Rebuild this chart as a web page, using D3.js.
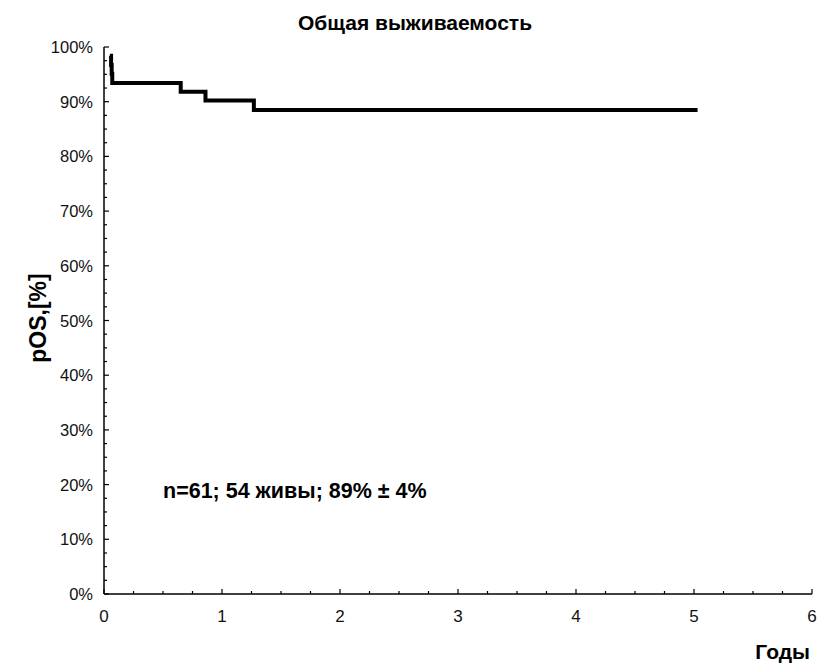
<!DOCTYPE html>
<html><head><meta charset="utf-8">
<script src="https://cdn.jsdelivr.net/npm/d3@7"></script>
<style>body{margin:0;background:#fff}text{font-family:"Liberation Sans",Arial,sans-serif}</style>
</head><body>
<svg id="c" width="825" height="665"></svg>
<script>
const times = [0.05, 0.06, 0.065, 0.07, 0.65, 0.86, 1.27, 5.03];
const survival = [98.4, 96.7, 95.1, 93.4, 91.8, 90.2, 88.5, 88.5];
const xTicks = [0, 1, 2, 3, 4, 5, 6];
const yTicks = [0, 10, 20, 30, 40, 50, 60, 70, 80, 90, 100];
const title = "Общая выживаемость";
const xLabel = "Годы";
const yLabel = "pOS,[%]";
const note = "n=61; 54 живы; 89% ± 4%";

const svg = d3.select("#c");
const x = d3.scaleLinear().domain([0, 6]).range([104, 812]);
const y = d3.scaleLinear().domain([0, 100]).range([594, 47]);

// axes
const g = svg.append("g");
g.append("line").attr("x1", x(0)).attr("x2", x(6)).attr("y1", y(0)).attr("y2", y(0)).attr("stroke", "#000").attr("stroke-width", 1.5);
g.append("line").attr("x1", x(0)).attr("x2", x(0)).attr("y1", y(0)).attr("y2", y(100)).attr("stroke", "#000").attr("stroke-width", 1.5);

d3.range(0, 6.001, 0.25).forEach(v => {
  const major = Math.abs(v - Math.round(v)) < 1e-6;
  g.append("line").attr("x1", x(v)).attr("x2", x(v)).attr("y1", y(0)).attr("y2", y(0) - (major ? 5 : 3)).attr("stroke", "#000").attr("stroke-width", 1.2);
});
d3.range(0, 100.001, 2.5).forEach(v => {
  const major = Math.abs(v / 10 - Math.round(v / 10)) < 1e-6;
  g.append("line").attr("x1", x(0)).attr("x2", x(0) + (major ? 5 : 3)).attr("y1", y(v)).attr("y2", y(v)).attr("stroke", "#000").attr("stroke-width", 1.2);
});

xTicks.forEach(v => {
  g.append("text").attr("x", x(v)).attr("y", y(0) + 28).attr("text-anchor", "middle")
    .attr("font-size", 17).attr("fill", "#111").text(v);
});
yTicks.forEach(v => {
  g.append("text").attr("x", 93).attr("y", y(v) + 6).attr("text-anchor", "end")
    .attr("font-size", 16.5).attr("fill", "#111").text(v + "%");
});

// curve
const line = d3.line().x(d => x(d[0])).y(d => y(d[1])).curve(d3.curveStepAfter);
const pts = times.map((t, i) => [t, survival[i]]);
svg.append("path").attr("d", line(pts)).attr("fill", "none").attr("stroke", "#000").attr("stroke-width", 4);

svg.append("text").attr("x", 415).attr("y", 30).attr("text-anchor", "middle").attr("font-weight", "bold").attr("font-size", 21).text(title);
svg.append("text").attr("x", 810).attr("y", 659).attr("text-anchor", "end").attr("font-weight", "bold").attr("font-size", 21).text(xLabel);
svg.append("text").attr("transform", "translate(46,318) rotate(-90)").attr("text-anchor", "middle").attr("font-weight", "bold").attr("font-size", 23).text(yLabel);
svg.append("text").attr("x", 163).attr("y", 498).attr("font-weight", "bold").attr("font-size", 21.5).text(note);
</script>
</body></html>
